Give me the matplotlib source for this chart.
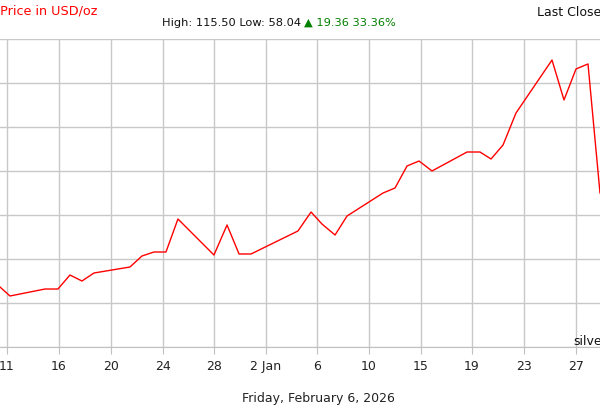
import matplotlib
matplotlib.use("Agg")
import matplotlib.pyplot as plt

x_pos = [0, 0.83, 3.75, 4.83, 5.83, 6.83, 7.83, 10.83, 11.83, 12.83, 13.83, 14.83,
         17.83, 18.92, 19.92, 20.92, 24.83, 25.92, 26.83, 27.92, 28.92, 31.92, 32.92,
         33.92, 34.92, 36, 38.92, 40, 40.92, 41.92, 43, 46, 47, 48, 49, 50]
prices = [60.23, 58.04, 59.74, 59.74, 63.15, 61.69, 63.64, 65.10, 67.78, 68.75, 68.75,
          76.79, 68.02, 75.33, 68.27, 68.27, 73.87, 78.49, 75.57, 72.89, 77.52, 83.12,
          84.34, 89.70, 90.91, 88.48, 93.10, 93.10, 91.40, 94.81, 102.60, 115.50,
          105.77, 113.32, 114.54, 83.12]
tick_pos = [0.58, 4.92, 9.25, 13.58, 17.83, 22.17, 26.42, 30.75, 35.08, 39.33, 43.67, 48.0]
tick_labels = ["11", "16", "20", "24", "28", "2 Jan", "6", "10", "15", "19", "23", "27"]
grid_y = [45.62 + 10.714 * k for k in range(8)]

fig = plt.figure(figsize=(6, 4.1), dpi=100)
ax = fig.add_axes([0, 62 / 410, 1, 308 / 410])
ax.plot(x_pos, prices, color="#ff0000", lw=1, clip_on=False)
ax.set_xlim(0, 50)
ax.set_ylim(grid_y[0], grid_y[-1])
ax.set_yticks(grid_y)
ax.set_xticks(tick_pos)
ax.set_xticklabels(tick_labels, fontsize=9, color="#222222")
ax.tick_params(axis="y", length=0, labelleft=False)
ax.tick_params(axis="x", length=5, color="#c0c0c0", pad=4)
ax.grid(True, color="#c8c8c8", lw=1)
for s in ["top", "right", "left"]:
    ax.spines[s].set_visible(False)
ax.spines["bottom"].set_color("#c0c0c0")

fig.text(97 / 600, 1 - 11 / 410, "Silver Price in USD/oz", color="#ff0000",
         fontsize=9.2, ha="right", va="center")
fig.text(537 / 600, 1 - 12 / 410, "Last Close", color="#111111",
         fontsize=9, ha="left", va="center")
fig.text(162 / 600, 1 - 23 / 410, "High: 115.50 Low: 58.04", color="#111111",
         fontsize=8.2, ha="left", va="center")
fig.text(304 / 600, 1 - 23 / 410, "▲ 19.36 33.36%", color="#008000",
         fontsize=8.2, ha="left", va="center")
fig.text(573 / 600, 1 - 342 / 410, "silver", color="#111111",
         fontsize=9, ha="left", va="center")
fig.text(318 / 600, 1 - 399 / 410, "Friday, February 6, 2026", color="#222222",
         fontsize=9, ha="center", va="center")

fig.savefig("out.png", dpi=100)
